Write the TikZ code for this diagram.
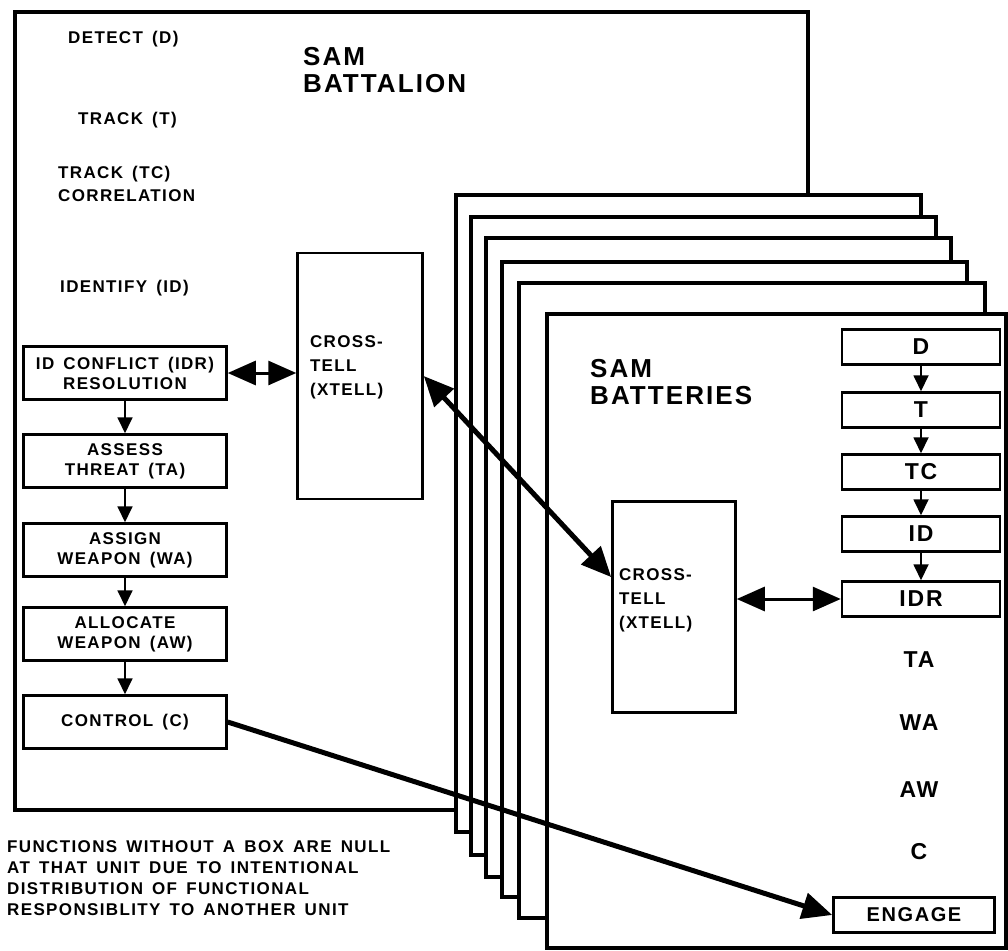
\documentclass[tikz,border=0pt]{standalone}
\usepackage{fontspec}
\setmainfont{Liberation Sans}[LetterSpace=8,WordSpace=1.5]
\usetikzlibrary{arrows.meta,calc}
\tikzset{
  frame/.style={draw,line width=4pt,fill=white},
  fnbox/.style={rectangle,draw,line width=2.5pt,fill=white,
                minimum width=203pt,minimum height=53pt,inner sep=0pt,
                align=center,font=\fontsize{17}{20}\selectfont\bfseries},
  xbox/.style={rectangle,draw,line width=2.5pt,fill=white,
               minimum width=125pt,text width=#1,align=left,inner sep=0pt,
               font=\fontsize{17}{24}\selectfont\bfseries},
  xbox/.default=100pt,
  bbox/.style={rectangle,draw,line width=2.5pt,fill=white,
               minimum width=158pt,minimum height=35pt,inner sep=0pt,
               font=\fontsize{23}{23}\selectfont\bfseries},
  fnlabel/.style={anchor=west,inner sep=0pt,align=left,
                  font=\fontsize{17}{23}\selectfont\bfseries},
  blabel/.style={inner sep=0pt,font=\fontsize{23}{23}\selectfont\bfseries},
  unit/.style={anchor=west,inner sep=0pt,align=left,
               font=\fontsize{26}{27}\selectfont\bfseries},
  flow/.style={line width=1.8pt,-{Triangle[width=15pt,length=16pt]}},
  dbl/.style={line width=3pt,
              {Triangle[width=24pt,length=28pt]}-{Triangle[width=24pt,length=28pt]}},
  link/.style={line width=5pt,-{Triangle[width=26pt,length=30pt]}},
}
\begin{document}
\begin{tikzpicture}[x=1pt,y=-1pt]
  \useasboundingbox (0,0) rectangle (1008,950);

  % battalion
  \draw[frame] (15,12) rectangle (808,810);
  \node[unit] (batname) at (303,70) {SAM\\BATTALION};
  \node[fnlabel] (det) at (68,39) {DETECT (D)};
  \node[fnlabel] (trk) at (78,120) {TRACK (T)};
  \node[fnlabel] (tcor) at (58,184) {TRACK (TC)\\CORRELATION};
  \node[fnlabel] (ident) at (60,288) {IDENTIFY (ID)};

  \node[fnbox] (idr) at (125,373) {ID CONFLICT (IDR)\\RESOLUTION};
  \node[fnbox] (ta) at (125,461) {ASSESS\\THREAT (TA)};
  \node[fnbox] (wa) at (125,550) {ASSIGN\\WEAPON (WA)};
  \node[fnbox] (aw) at (125,634) {ALLOCATE\\WEAPON (AW)};
  \node[fnbox] (ctrl) at (125,722) {CONTROL (C)};
  \foreach \a/\b in {idr/ta,ta/wa,wa/aw,aw/ctrl}
    \draw[flow] (\a) -- (\b);

  \node[xbox,minimum height=246pt,text depth=68pt] (xtellA) at (360,376)
    {CROSS-\\TELL\\(XTELL)};
  \draw[dbl] (idr.east) -- (idr.east -| xtellA.west);

  % batteries, back to front
  \foreach \l/\t/\r/\b in {456/195/921/832,471/217/936/855,486/238/951/877,
                           502/262/967/897,519/283/985/918,547/314/1006/948}
    \draw[frame] (\l,\t) rectangle (\r,\b);
  \node[unit] (batsname) at (590,382) {SAM\\BATTERIES};

  \node[bbox] (bd) at (921,347) {D};
  \node[bbox] (bt) at (921,410) {T};
  \node[bbox] (btc) at (921,472) {TC};
  \node[bbox] (bid) at (921,534) {ID};
  \node[bbox] (bidr) at (921,599) {IDR};
  \foreach \a/\b in {bd/bt,bt/btc,btc/bid,bid/bidr}
    \draw[flow] (\a) -- (\b);

  \node[blabel] (bta) at (919,660) {TA};
  \node[blabel] (bwa) at (919,723) {WA};
  \node[blabel] (baw) at (919,790) {AW};
  \node[blabel] (bc) at (919,852) {C};
  \node[bbox,minimum width=161pt,font=\fontsize{20}{20}\selectfont\bfseries]
    (engage) at (914,915) {ENGAGE};

  \node[xbox=110pt,minimum width=123pt,minimum height=211pt,text depth=64pt]
    (xtellB) at (674,607) {CROSS-\\TELL\\(XTELL)};
  \draw[dbl] (xtellB.east |- bidr.west) -- (bidr.west);

  % links between units
  \draw[link,{Triangle[width=26pt,length=30pt]}-{Triangle[width=26pt,length=30pt]}]
    (xtellA.east) -- ($(xtellB.north west)!0.36!(xtellB.south west)$);
  \draw[link] (ctrl.east) -- (engage.west);

  \node[fnlabel,font=\fontsize{17}{21}\selectfont\bfseries] (note) at (7,878)
    {FUNCTIONS WITHOUT A BOX ARE NULL\\AT THAT UNIT DUE TO INTENTIONAL\\
     DISTRIBUTION OF FUNCTIONAL\\RESPONSIBLITY TO ANOTHER UNIT};
\end{tikzpicture}
\end{document}
